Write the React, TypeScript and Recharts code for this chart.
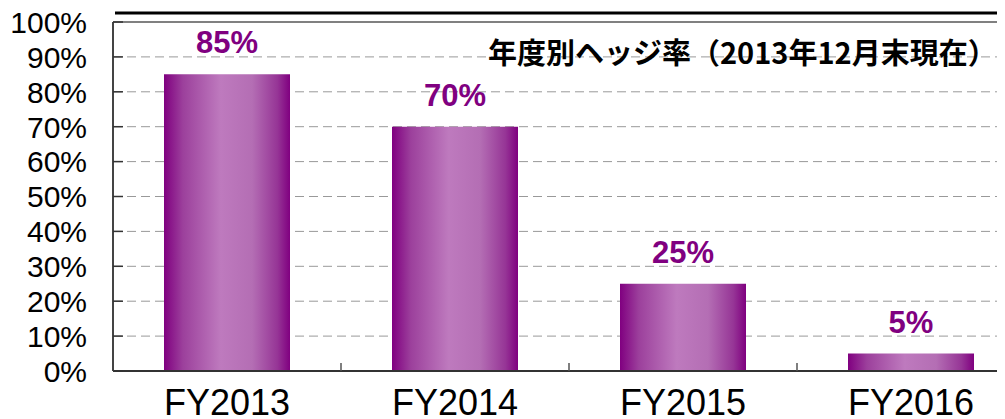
import React from 'react';
import { BarChart, Bar, XAxis, YAxis, CartesianGrid, ReferenceLine, LabelList } from 'recharts';

// data
const years = ['FY2013', 'FY2014', 'FY2015', 'FY2016'];
const hedgeRates = [0.85, 0.7, 0.25, 0.05];
const yTicks = [0, 0.1, 0.2, 0.3, 0.4, 0.5, 0.6, 0.7, 0.8, 0.9, 1];
const title = '年度別ヘッジ率（2013年12月末現在）';

const data = years.map((name, i) => ({ name, rate: hedgeRates[i] }));

// layout (the chart is cropped on the right, like the original slide)
const W = 1025;
const H = 419;
const yAxisWidth = 113;
const xAxisHeight = 48;
const plotTop = 22;
const plotBottom = H - xAxisHeight;
const band = (W - yAxisWidth) / years.length;

const PURPLE = '#800080';
const FONT = '"Liberation Sans", Arial, sans-serif';
const JP_FONT = '"Noto Sans CJK JP", "Noto Sans CJK SC", sans-serif';

const pct = (v: number) => `${Math.round(v * 100)}%`;

const YTick = (props: any) => {
  const { x, y, payload } = props;
  return (
    <g>
      <line x1={yAxisWidth} x2={yAxisWidth + 10} y1={y} y2={y} stroke="#333" strokeWidth={1.5} />
      <text x={x} y={y} dy="0.36em" textAnchor="end" fontSize={30} fontFamily={FONT} fill="#000">
        {pct(payload.value)}
      </text>
    </g>
  );
};

const XTick = (props: any) => {
  const { x, y, payload } = props;
  const edge = x + band / 2;
  return (
    <g>
      <line x1={edge} x2={edge} y1={plotBottom - 8} y2={plotBottom} stroke="#555" strokeWidth={1.5} />
      <text x={x} y={y} dy="0.72em" textAnchor="middle" fontSize={36} fontFamily={FONT} fill="#000">
        {payload.value}
      </text>
    </g>
  );
};

const BarValue = (props: any) => {
  const { x, y, width, value } = props;
  return (
    <text
      x={x + width / 2}
      y={y - 21}
      textAnchor="middle"
      fontSize={31}
      fontWeight="bold"
      fontFamily={FONT}
      fill={PURPLE}
    >
      {pct(value)}
    </text>
  );
};

export default function App() {
  return (
    <div style={{ position: 'relative', width: 1005, height: 419, overflow: 'hidden', margin: '-8px 0 0 -8px', background: '#fff' }}>
      <BarChart
        width={W}
        height={H}
        data={data}
        margin={{ top: plotTop, right: 0, left: 0, bottom: 0 }}
        barSize={126}
      >
        <defs>
          <linearGradient id="barGrad" x1="0" y1="0" x2="1" y2="0">
            <stop offset="0%" stopColor="#800080" />
            <stop offset="15%" stopColor="#9C409C" />
            <stop offset="45%" stopColor="#BE7ABE" />
            <stop offset="70%" stopColor="#B46EB4" />
            <stop offset="90%" stopColor="#963596" />
            <stop offset="100%" stopColor="#800080" />
          </linearGradient>
        </defs>
        <CartesianGrid vertical={false} stroke="#999" strokeDasharray="9 5" />
        <ReferenceLine y={1} stroke="#808080" strokeWidth={2} />
        <XAxis
          dataKey="name"
          height={xAxisHeight}
          tickLine={false}
          tickSize={0}
          tickMargin={18}
          axisLine={{ stroke: '#333', strokeWidth: 2 }}
          tick={<XTick />}
          interval={0}
        />
        <YAxis
          width={yAxisWidth}
          domain={[0, 1]}
          ticks={yTicks}
          tickLine={false}
          tickSize={0}
          tickMargin={26}
          axisLine={{ stroke: '#444', strokeWidth: 2 }}
          tick={<YTick />}
          interval={0}
        />
        <Bar dataKey="rate" fill="url(#barGrad)" isAnimationActive={false}>
          <LabelList dataKey="rate" content={<BarValue />} />
        </Bar>
      </BarChart>
      <svg width={1005} height={419} style={{ position: 'absolute', left: 0, top: 0, pointerEvents: 'none' }}>
        <line x1={115} x2={1005} y1={13} y2={13} stroke="#000" strokeWidth={3} />
        <text x={488} y={64} fontSize={29} fontWeight="bold" fontFamily={JP_FONT} fill="#000">
          {title}
        </text>
      </svg>
    </div>
  );
}
